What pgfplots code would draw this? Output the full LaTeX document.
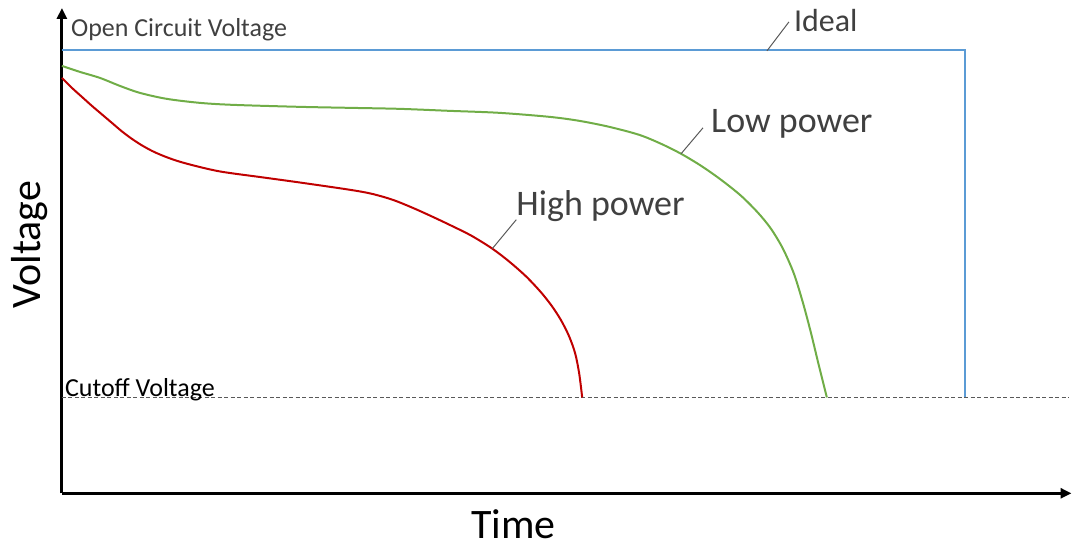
\documentclass[border=0pt]{standalone}
\usepackage{pgfplots}
\pgfplotsset{compat=1.18}
\usepackage{fontspec}
\setmainfont{Carlito}
\usetikzlibrary{arrows.meta}
\definecolor{idealblue}{HTML}{5B9BD5}
\definecolor{lowgreen}{HTML}{70AD47}
\definecolor{highred}{HTML}{C00000}
\definecolor{txtgray}{HTML}{404040}
\definecolor{leadgray}{HTML}{595959}
\begin{document}
\begin{tikzpicture}
\begin{axis}[
  x=1pt, y=1pt,
  xmin=0, xmax=1011, ymin=0, ymax=486,
  axis lines=left,
  axis line style={line width=3pt, -{Triangle[length=11pt,width=10pt]}},
  xtick=\empty, ytick=\empty,
  clip=false,
]
% bounding box of the whole picture
\path (axis cs:-62,-54) rectangle (axis cs:1011,494);

% cutoff voltage
\addplot[leadgray, line width=1.1pt, dash pattern=on 4pt off 2.5pt] coordinates {(0,96) (1008,96)};

% ideal
\addplot[idealblue, line width=1.8pt] coordinates {(0,444) (904,444) (904,96)};

% low power
\addplot[lowgreen, line width=2pt, smooth, tension=0.5] coordinates {
(0,428) (18,422) (38,416) (58,408) (78,401) (105,395) (138,391) (171,389)
(238,387) (288,386) (338,385) (388,383) (438,381) (488,377) (518,373)
(548,367) (578,359) (600,350) (620,340) (640,328) (660,314) (680,298)
(697,281) (710,265) (722,245) (733,220) (742,191) (750,161) (758,128) (766,96)};

% high power
\addplot[highred, line width=2pt, smooth, tension=0.5] coordinates {
(0,416) (10,406) (20,397) (30,388) (40,379.5) (50,371) (60,362.5) (70,355)
(80,348.5) (90,343) (100,338.5) (115,333) (135,327.5) (160,322) (200,316.5)
(240,311) (288,304) (310,300) (331,294) (351,286) (371,277) (390,268)
(410,258) (431,245) (448,232) (465,217) (480,201) (491,187) (500,173)
(508,157) (514,140) (518,120) (521,96)};

% leader lines
\draw[leadgray, line width=1pt] (axis cs:706,443) -- (axis cs:728,472);
\draw[leadgray, line width=1pt] (axis cs:620,340) -- (axis cs:642,366);
\draw[leadgray, line width=1pt] (axis cs:431,245) -- (axis cs:455,274);

% labels
\node[anchor=base west, inner sep=0, text=txtgray, font=\fontsize{32}{38}\selectfont] at (axis cs:733,462) {Ideal};
\node[anchor=base west, inner sep=0, text=txtgray, font=\fontsize{36}{42}\selectfont] at (axis cs:650,361) {Low power};
\node[anchor=base west, inner sep=0, text=txtgray, font=\fontsize{36}{42}\selectfont] at (axis cs:455,278) {High power};
\node[anchor=base west, inner sep=0, text=txtgray, font=\fontsize{26}{30}\selectfont] at (axis cs:9,457) {Open Circuit Voltage};
\node[anchor=base west, inner sep=0, text=black, font=\fontsize{26}{30}\selectfont] at (axis cs:3,97) {Cutoff Voltage};
\node[anchor=base, inner sep=0, text=black, font=\fontsize{42}{50}\selectfont] at (axis cs:452,-45) {Time};
\node[anchor=base, inner sep=0, rotate=90, text=black, font=\fontsize{42}{50}\selectfont] at (axis cs:-21,249) {Voltage};
\end{axis}
\end{tikzpicture}
\end{document}
